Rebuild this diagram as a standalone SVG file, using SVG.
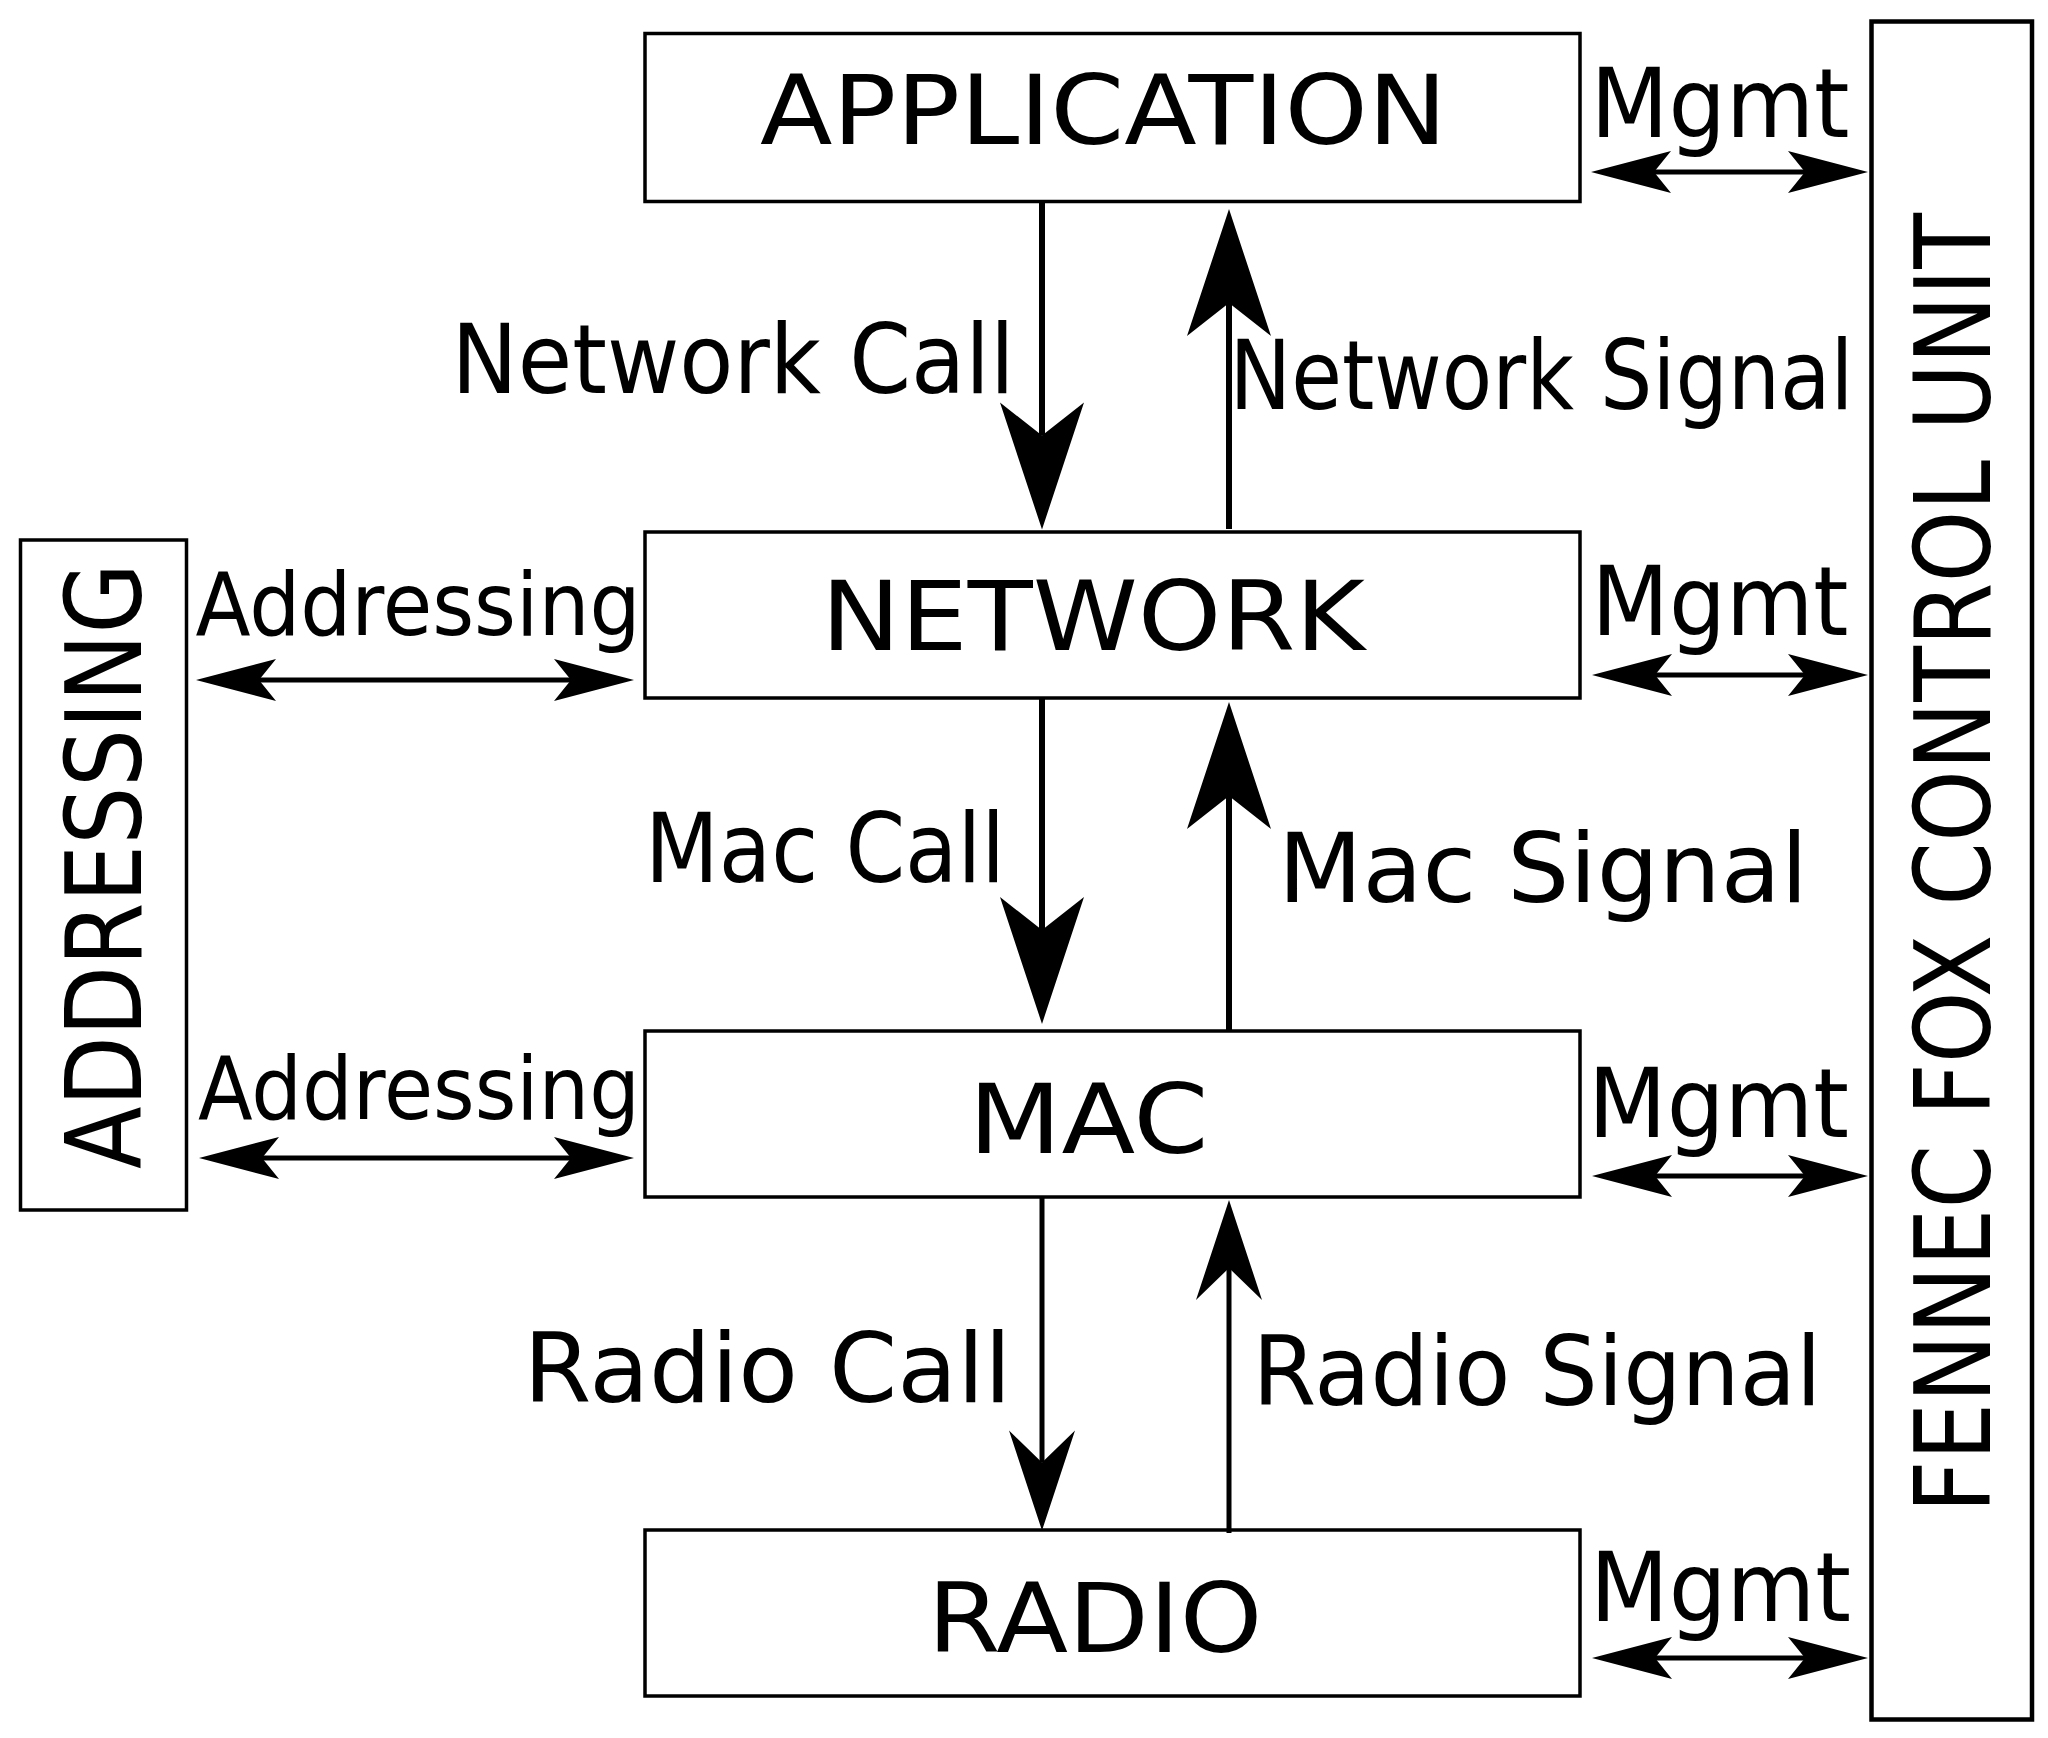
<svg xmlns="http://www.w3.org/2000/svg" width="2048" height="1738" viewBox="0 0 2048 1738">
  <style>
    .box { fill: #ffffff; stroke: #000000; stroke-width: 3.5; }
    .fcu { fill: #ffffff; stroke: #000000; stroke-width: 4.5; }
    .t { font-family: "DejaVu Sans", "Liberation Sans", sans-serif; fill: #000000; }
    .lbl { font-size: 96px; }
    .addr { font-size: 88px; }
    .side { font-size: 106px; }
    .conn { stroke: #000000; fill: none; }
    .v { stroke-width: 6; }
    .vr { stroke-width: 5; }
    .h { stroke-width: 5; }
  </style>
  <defs>
    <marker id="headL" markerUnits="userSpaceOnUse" orient="auto-start-reverse" refX="0" refY="0" markerWidth="1" markerHeight="1" overflow="visible">
      <path d="M94,0 L-33,-42 L0,0 L-33,42 Z" fill="#000000"/>
    </marker>
    <marker id="headM" markerUnits="userSpaceOnUse" orient="auto-start-reverse" refX="0" refY="0" markerWidth="1" markerHeight="1" overflow="visible">
      <path d="M68,0 L-32,-33 L0,0 L-32,33 Z" fill="#000000"/>
    </marker>
    <marker id="headS" markerUnits="userSpaceOnUse" orient="auto-start-reverse" refX="0" refY="0" markerWidth="1" markerHeight="1" overflow="visible">
      <path d="M63,0 L-17,-21 L0,0 L-17,21 Z" fill="#000000"/>
    </marker>
  </defs>

  <g id="application">
    <rect class="box" x="645" y="33.5" width="935" height="168"/>
    <text class="t lbl" x="760" y="143.5" textLength="687" lengthAdjust="spacingAndGlyphs">APPLICATION</text>
  </g>
  <g id="network">
    <rect class="box" x="645" y="532" width="935" height="166"/>
    <text class="t lbl" x="821" y="650" textLength="544" lengthAdjust="spacingAndGlyphs">NETWORK</text>
  </g>
  <g id="mac">
    <rect class="box" x="645" y="1031" width="935" height="166"/>
    <text class="t lbl" x="968.5" y="1153" textLength="240" lengthAdjust="spacingAndGlyphs">MAC</text>
  </g>
  <g id="radio">
    <rect class="box" x="645" y="1530" width="935" height="166"/>
    <text class="t lbl" x="927.5" y="1651.5" textLength="335" lengthAdjust="spacingAndGlyphs">RADIO</text>
  </g>
  <g id="addressing">
    <rect class="box" x="20.5" y="540" width="166" height="670"/>
    <text class="t side" transform="translate(140.5,1169) rotate(-90)" x="0" y="0" textLength="606" lengthAdjust="spacingAndGlyphs">ADDRESSING</text>
  </g>
  <g id="fennec-fox-control-unit">
    <rect class="fcu" x="1871.5" y="21.5" width="160.5" height="1698"/>
    <text class="t side" transform="translate(1990,1513) rotate(-90)" x="0" y="0" font-size="107" textLength="1300" lengthAdjust="spacingAndGlyphs">FENNEC FOX CONTROL UNIT</text>
  </g>

  <g id="connectors">
    <!-- calls (down) -->
    <line class="conn v" x1="1042" y1="202" x2="1042" y2="435.5" marker-end="url(#headL)"/>
    <line class="conn v" x1="1042" y1="697" x2="1042" y2="930" marker-end="url(#headL)"/>
    <line class="conn vr" x1="1042" y1="1198" x2="1042" y2="1462.5" marker-end="url(#headM)"/>
    <!-- signals (up) -->
    <line class="conn v" x1="1229" y1="529" x2="1229" y2="303" marker-end="url(#headL)"/>
    <line class="conn v" x1="1229" y1="1030" x2="1229" y2="796" marker-end="url(#headL)"/>
    <line class="conn vr" x1="1229" y1="1533" x2="1229" y2="1268" marker-end="url(#headM)"/>
    <!-- mgmt -->
    <line class="conn h" x1="1654" y1="172" x2="1805" y2="172" marker-start="url(#headS)" marker-end="url(#headS)"/>
    <line class="conn h" x1="1655" y1="675" x2="1805" y2="675" marker-start="url(#headS)" marker-end="url(#headS)"/>
    <line class="conn h" x1="1655" y1="1176" x2="1805" y2="1176" marker-start="url(#headS)" marker-end="url(#headS)"/>
    <line class="conn h" x1="1655" y1="1658" x2="1805" y2="1658" marker-start="url(#headS)" marker-end="url(#headS)"/>
    <!-- addressing -->
    <line class="conn h" x1="259" y1="680" x2="571" y2="680" marker-start="url(#headS)" marker-end="url(#headS)"/>
    <line class="conn h" x1="262" y1="1158" x2="571" y2="1158" marker-start="url(#headS)" marker-end="url(#headS)"/>

    <text class="t lbl" x="451.5" y="393" textLength="563" lengthAdjust="spacingAndGlyphs">Network Call</text>
    <text class="t lbl" x="1229.5" y="409" textLength="624" lengthAdjust="spacingAndGlyphs">Network Signal</text>
    <text class="t lbl" x="645" y="882" textLength="360" lengthAdjust="spacingAndGlyphs">Mac Call</text>
    <text class="t lbl" x="1278" y="902" textLength="530" lengthAdjust="spacingAndGlyphs">Mac Signal</text>
    <text class="t lbl" x="523.5" y="1401.5" textLength="488" lengthAdjust="spacingAndGlyphs">Radio Call</text>
    <text class="t lbl" x="1252.5" y="1405" textLength="569" lengthAdjust="spacingAndGlyphs">Radio Signal</text>
    <text class="t lbl" x="1590.5" y="137" textLength="259" lengthAdjust="spacingAndGlyphs">Mgmt</text>
    <text class="t lbl" x="1591.5" y="634.5" textLength="257" lengthAdjust="spacingAndGlyphs">Mgmt</text>
    <text class="t lbl" x="1588" y="1137" textLength="261" lengthAdjust="spacingAndGlyphs">Mgmt</text>
    <text class="t lbl" x="1590" y="1621" textLength="261" lengthAdjust="spacingAndGlyphs">Mgmt</text>
    <text class="t addr" x="195.5" y="635" textLength="445" lengthAdjust="spacingAndGlyphs">Addressing</text>
    <text class="t addr" x="198" y="1119" textLength="442" lengthAdjust="spacingAndGlyphs">Addressing</text>
  </g>
</svg>
